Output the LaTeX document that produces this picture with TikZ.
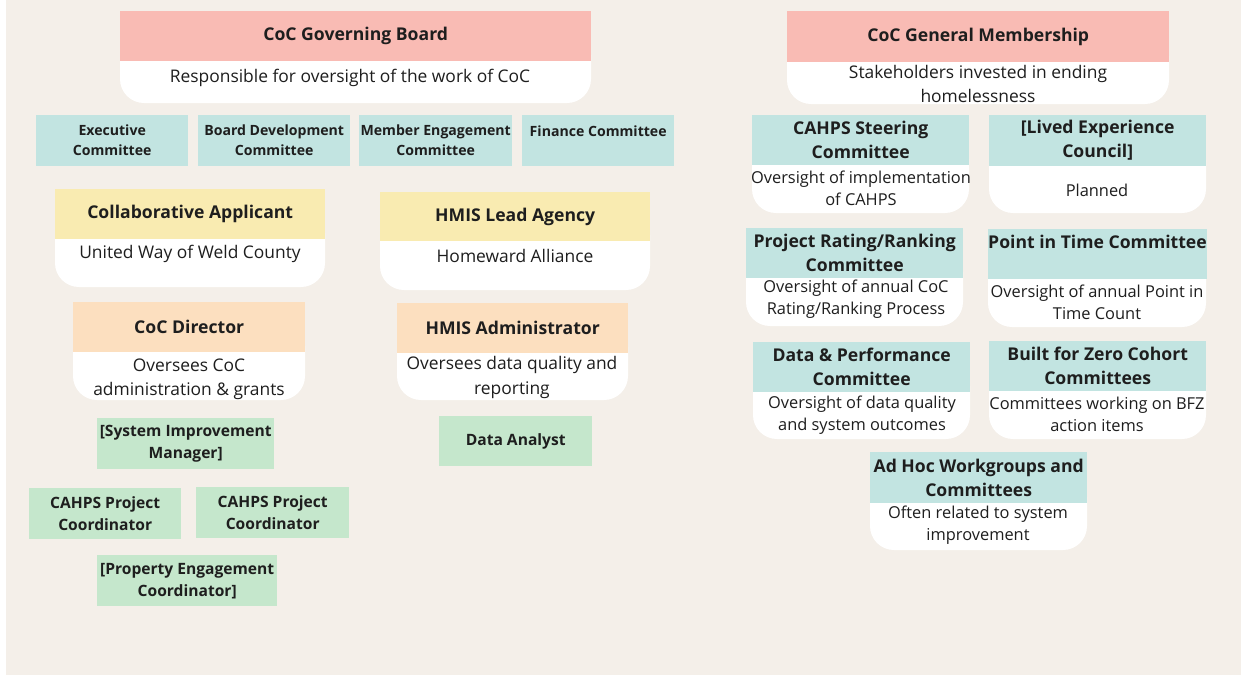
\documentclass[tikz,border=0pt]{standalone}
\usepackage{fontspec}
\setmainfont{Open Sans}
\definecolor{bg}{HTML}{F4EFE9}
\definecolor{pinkh}{HTML}{F9BBB4}
\definecolor{tealh}{HTML}{C2E4E1}
\definecolor{yellowh}{HTML}{F9EBB1}
\definecolor{orangeh}{HTML}{FCDFBF}
\definecolor{greenh}{HTML}{C5E7CC}
\definecolor{txt}{HTML}{1E1E1E}
\newcommand\card[8]{%
  \fill[white, rounded corners=24pt] (#2,#5-30) rectangle (#3,#6);
  \node[ttl, fill=#7, anchor=north west, inner sep=0pt, align=center, text=txt,
        minimum width={(#3-#2)*1pt}, minimum height={(#5-#4)*1pt}] (#1) at (#2,#4) {#8};
}
\tikzset{
  x=1pt, y=-1pt,
  ttl/.style={font=\fontsize{17.6}{24}\selectfont\bfseries},
  btxt/.style={font=\fontsize{16.4}{22}\selectfont, align=center, text=txt, inner sep=0pt},
  btxtbig/.style={font=\fontsize{17.4}{24}\selectfont, align=center, text=txt, inner sep=0pt},
  comm/.style={fill=tealh, anchor=north west, inner sep=0pt, align=center, text=txt,
     minimum height=51pt, minimum width=152pt, font=\fontsize{14.1}{20}\selectfont\bfseries},
  staff/.style={fill=greenh, anchor=north west, inner sep=0pt, align=center, text=txt,
     minimum height=51pt, font=\fontsize{15.6}{22}\selectfont\bfseries},
}
\begin{document}
\begin{tikzpicture}
\useasboundingbox (0,0) rectangle (1241,675);
\fill[bg] (6,0) rectangle (1241,675);

% Governing board
\card{gb}{120}{591}{11}{61}{103}{pinkh}{CoC Governing Board}
\node[btxtbig] (gbb) at (350,78) {Responsible for oversight of the work of CoC};

\node[comm] (exec) at (36,115) {Executive\\Committee};
\node[comm] (bd) at (198,115) {Board Development\\Committee};
\node[comm, minimum width=153pt] (me) at (359,115) {Member Engagement\\Committee};
\node[comm] (fin) at (522,115) {Finance Committee\\\mbox{}};

\card{ca}{55}{325}{189}{239}{287}{yellowh}{Collaborative Applicant}
\node[btxtbig] (cab) at (190,254) {United Way of Weld County};
\card{hl}{380}{650}{192}{241}{290}{yellowh}{HMIS Lead Agency}
\node[btxtbig] (hlb) at (515,256) {Homeward Alliance};

\card{cd}{73}{305}{302}{352}{400}{orangeh}{CoC Director}
\node[btxtbig] (cdb) at (189,379) {Oversees CoC\\administration \& grants};
\card{ha}{397}{628}{303}{353}{400}{orangeh}{HMIS Administrator}
\node[btxtbig, font=\fontsize{17.4}{25}\selectfont] (hab) at (512,377.5) {Oversees data quality and\\reporting};

\node[staff, minimum width=177pt] (sim) at (97,418) {[System Improvement\\Manager]};
\node[staff, minimum width=153pt, minimum height=50pt] (da) at (439,416) {Data Analyst};
\node[staff, minimum width=152pt] (cp1) at (29,488) {CAHPS Project\\Coordinator};
\node[staff, minimum width=153pt] (cp2) at (196,487) {CAHPS Project\\Coordinator};
\node[staff, minimum width=180pt] (pe) at (97,555) {[Property Engagement\\Coordinator]};

% Right side
\card{gm}{787}{1169}{11}{62}{104}{pinkh}{CoC General Membership}
\node[btxtbig] (gmb) at (978,84) {Stakeholders invested in ending\\homelessness};

\card{cs}{752}{969}{115}{165}{213}{tealh}{CAHPS Steering\\Committee}
\node[btxt] (csb) at (861,188) {Oversight of implementation\\of CAHPS};
\card{le}{989}{1206}{115}{166}{213}{tealh}{[Lived Experience\\Council]}
\node[btxt] (leb) at (1097,190) {Planned};

\card{pr}{746}{963}{228}{278}{326}{tealh}{Project Rating/Ranking\\Committee}
\node[btxt] (prb) at (856,299) {Oversight of annual CoC\\Rating/Ranking Process};
\card{pit}{988}{1206}{229}{279}{327}{tealh}{Point in Time Committee\\\mbox{}}
\node[btxt] (pitb) at (1097,302.5) {Oversight of annual Point in\\Time Count};

\card{dp}{753}{970}{342}{392}{439}{tealh}{Data \& Performance\\Committee}
\node[btxt] (dpb) at (862,415) {Oversight of data quality\\and system outcomes};
\card{bfz}{989}{1206}{341}{391}{439}{tealh}{Built for Zero Cohort\\Committees}
\node[btxt] (bfzb) at (1097,414) {Committees working on BFZ\\action items};

\card{ah}{870}{1087}{452}{503}{550}{tealh}{Ad Hoc Workgroups and\\Committees}
\node[btxt] (ahb) at (978,525) {Often related to system\\improvement};
\end{tikzpicture}
\end{document}
